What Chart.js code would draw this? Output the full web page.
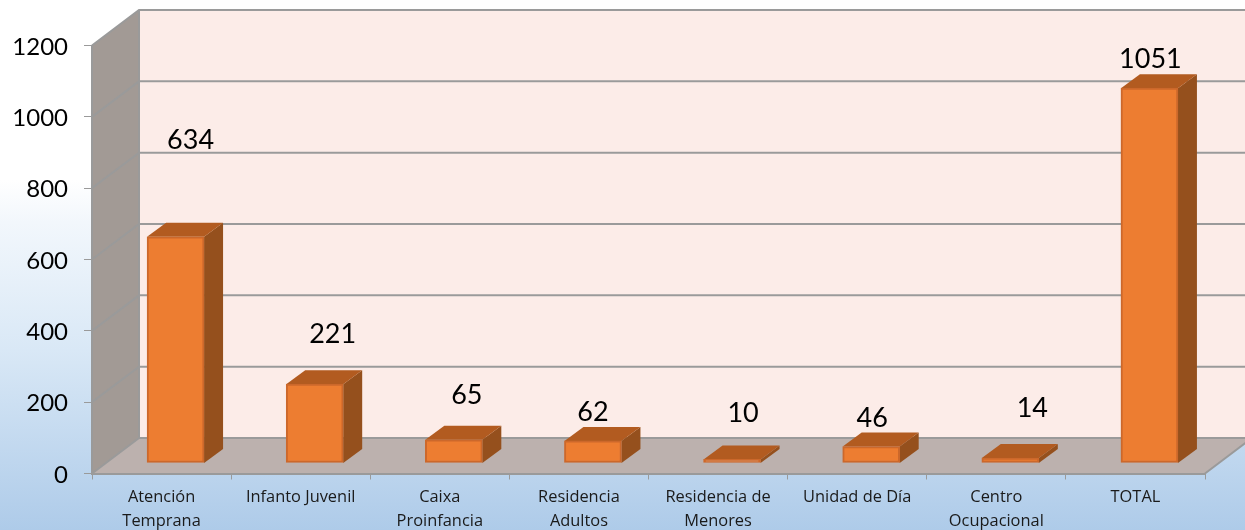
<!DOCTYPE html>
<html><head><meta charset="utf-8">
<style>html,body{margin:0;padding:0;background:#fff}canvas{display:block}</style>
<script src="https://cdn.jsdelivr.net/npm/chart.js@4"></script>
</head><body>
<canvas id="c" width="1245" height="530"></canvas>
<script>
const categories = [["Atención","Temprana"],"Infanto Juvenil",["Caixa","Proinfancia"],["Residencia","Adultos"],["Residencia de","Menores"],"Unidad de Día",["Centro","Ocupacional"],"TOTAL"];
const values = [634,221,65,62,10,46,14,1051];
const yTicks = [0,200,400,600,800,1000,1200];
const labelNudgeX = [15,18,13,0,11,1,22,1];
const labelNudgeY = [-96.5,-49.5,-44.5,-28.5,-46.5,-28.5,-49.5,-28.5];

const WALL_DX = 47, WALL_DY = 35.5;
const BAR_DX = 14, BAR_DY = 10.5;
const BAR_DEPTH_X = 19, BAR_DEPTH_Y = 14;
const GRID = '#9a9a9a';

function poly(ctx, pts, fill){
  ctx.beginPath();
  pts.forEach((p,i)=> i?ctx.lineTo(p[0],p[1]):ctx.moveTo(p[0],p[1]));
  ctx.closePath();
  ctx.fillStyle = fill; ctx.fill();
}
const scene = {
  id:'scene',
  beforeDraw(chart){
    const {ctx, chartArea:a, scales:{y}} = chart;
    y.getLabelItems().forEach(it=>{
      if(!it._moved){ it.options.translation[1]+=1.5; it._moved=true; }
    });
    ctx.save();
    const g = ctx.createLinearGradient(0,0,0,530);
    g.addColorStop(0,'#ffffff'); g.addColorStop(0.34,'#ffffff');
    g.addColorStop(0.42,'#f2f7fc'); g.addColorStop(0.66,'#d9e8f6'); g.addColorStop(1,'#aecbe9');
    ctx.fillStyle = g; ctx.fillRect(0,0,1245,530);
    const top = y.getPixelForValue(1200), bot = y.getPixelForValue(0);
    const L=a.left, R=a.right;
    // back wall
    poly(ctx,[[L+WALL_DX,top-WALL_DY],[R+WALL_DX,top-WALL_DY],[R+WALL_DX,bot-WALL_DY],[L+WALL_DX,bot-WALL_DY]],'#fcece8');
    // side wall
    poly(ctx,[[L,top],[L+WALL_DX,top-WALL_DY],[L+WALL_DX,bot-WALL_DY],[L,bot]],'#a29a95');
    // floor
    poly(ctx,[[L,bot],[L+WALL_DX,bot-WALL_DY],[R+WALL_DX,bot-WALL_DY],[R,bot]],'#bcb1ae');
    ctx.strokeStyle = GRID; ctx.lineWidth = 2;
    yTicks.forEach(v=>{
      const p = y.getPixelForValue(v);
      ctx.beginPath();
      ctx.moveTo(L,p); ctx.lineTo(L+WALL_DX,p-WALL_DY); ctx.lineTo(R+WALL_DX,p-WALL_DY);
      ctx.stroke();
    });
    ctx.beginPath();
    ctx.moveTo(L+WALL_DX,top-WALL_DY); ctx.lineTo(L+WALL_DX,bot-WALL_DY);
    ctx.moveTo(R,bot); ctx.lineTo(R+WALL_DX,bot-WALL_DY);
    ctx.stroke();
    ctx.restore();
  },
  beforeDatasetDraw(chart,args){
    const {ctx} = chart, y0 = chart.scales.y.getPixelForValue(0);
    ctx.save();
    ctx.translate(BAR_DX,-BAR_DY);
    chart.getDatasetMeta(args.index).data.forEach(b=>{
      const hw = b.width/2, l=b.x-hw, r=b.x+hw, t=b.y;
      poly(ctx,[[r,t],[r+BAR_DEPTH_X,t-BAR_DEPTH_Y],[r+BAR_DEPTH_X,y0-BAR_DEPTH_Y],[r,y0]],'#95501d');
      poly(ctx,[[l,t],[l+BAR_DEPTH_X,t-BAR_DEPTH_Y],[r+BAR_DEPTH_X,t-BAR_DEPTH_Y],[r,t]],'#b25b20');
    });
  },
  afterDatasetDraw(chart){ chart.ctx.restore(); },
  afterDatasetsDraw(chart){
    const {ctx} = chart, meta = chart.getDatasetMeta(0);
    ctx.save();
    ctx.fillStyle='#000'; ctx.textAlign='center'; ctx.textBaseline='middle';
    ctx.font='27px Lato';
    meta.data.forEach((b,i)=>{
      ctx.fillText(String(values[i]), b.x+BAR_DX+labelNudgeX[i], b.y-BAR_DY+labelNudgeY[i]);
    });
    ctx.restore();
  }
};
new Chart(document.getElementById('c'),{
  type:'bar',
  data:{labels:categories,datasets:[{data:values,backgroundColor:'#ed7d31',borderColor:'#cc682b',borderWidth:2,borderSkipped:false,barThickness:57,clip:false}]},
  plugins:[scene],
  options:{
    responsive:false,animation:false,
    layout:{autoPadding:false,padding:{left:0,top:45.5,right:40,bottom:0}},
    plugins:{legend:{display:false},tooltip:{enabled:false},title:{display:false}},
    scales:{
      x:{
        grid:{drawOnChartArea:false,drawTicks:true,tickLength:6,color:GRID,lineWidth:1},
        border:{color:GRID,width:2},
        ticks:{color:'#1a1a1a',font:{family:'"Open Sans"',size:16.4,lineHeight:1.45},padding:6,maxRotation:0,minRotation:0,autoSkip:false},
        afterFit(s){s.height=56.5;}
      },
      y:{
        min:0,max:1200,
        afterBuildTicks(s){s.ticks=yTicks.map(v=>({value:v}));},
        grid:{drawOnChartArea:false,drawTicks:true,tickLength:8,color:GRID,lineWidth:1},
        border:{color:GRID,width:2},
        ticks:{color:'#000',font:{family:'Lato',size:24},padding:16,callback:v=>String(v)},
        afterFit(s){s.width=92;}
      }
    }
  }
});
</script>
</body></html>
